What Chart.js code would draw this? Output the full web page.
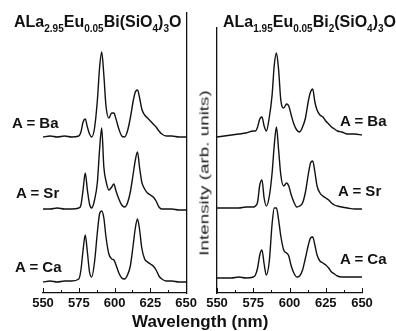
<!DOCTYPE html>
<html><head><meta charset="utf-8">
<script src="https://cdn.jsdelivr.net/npm/chart.js@4.4.0/dist/chart.umd.min.js"></script>
<style>
html,body{margin:0;padding:0;background:#fff;}
#wrap{position:relative;width:396px;height:331px;overflow:hidden;font-family:"Liberation Sans",Arial,sans-serif;color:#111;}
canvas{position:absolute;top:0;}
.t{position:absolute;white-space:nowrap;font-weight:bold;line-height:1;}
.ttl{font-size:16px;}
.ttl .s{font-size:10px;position:relative;top:5px;vertical-align:baseline;}
.lab{font-size:15px;}
.xl{font-size:17px;}
.yl{position:absolute;white-space:nowrap;font-size:13px;line-height:1;font-weight:normal;color:#1a1a1a;transform:translate(-50%,-50%) rotate(-90deg) scaleX(1.45);}
</style></head><body>
<div id="wrap">
<canvas id="c1" width="200" height="331" style="left:0"></canvas>
<canvas id="c2" width="196" height="331" style="left:200px"></canvas>
<div class="t ttl" style="left:14px;top:14px">ALa<span class="s">2.95</span>Eu<span class="s">0.05</span>Bi(SiO<span class="s">4</span>)<span class="s">3</span>O</div>
<div class="t ttl" style="left:223px;top:14px">ALa<span class="s">1.95</span>Eu<span class="s">0.05</span>Bi<span class="s">2</span>(SiO<span class="s">4</span>)<span class="s">3</span>O</div>
<div class="t lab" style="left:12px;top:115px">A = Ba</div>
<div class="t lab" style="left:16px;top:185px">A = Sr</div>
<div class="t lab" style="left:15px;top:259px">A = Ca</div>
<div class="t lab" style="left:340px;top:113px">A = Ba</div>
<div class="t lab" style="left:338px;top:183px">A = Sr</div>
<div class="t lab" style="left:340px;top:251px">A = Ca</div>
<div class="t xl" style="left:132px;top:313px">Wavelength (nm)</div>
<div class="yl" style="left:204px;top:173px">Intensity (arb. units)</div>
</div>
<script>
// Wavelength grid (nm)
const wavelengths = [550,555,560,565,570,575,576.5,578,579.5,581,582.5,584,586,588,589.5,591,592.5,594,596,598,599.5,601,603,605,607,609,611,613,614.5,616,617.5,619,621,623,625,627,629,631,633,636,640,645,650];
// Left panel: ALa2.95Eu0.05Bi(SiO4)3O (stacked intensities, arb. units)
const leftBa = [156,157,156,157,156,157,161,171,174,166,159,156,165,193,225,241,218,187,175,180,180,174,164,157,156,162,175,192,201,203,195,184,178,175,172,169,166,162,159,157,157,156,156];
const leftSr = [84,84,85,84,84,85,88,103,120,103,89,85,93,111,143,165,126,112,103,106,109,102,94,88,86,90,101,119,133,141,125,111,104,100,98,96,92,86,84,84,84,83,83];
const leftCa = [11,12,11,12,12,14,23,43,58,41,21,16,31,61,79,82,75,56,39,34,33,28,20,15,14,18,27,48,65,74,63,45,34,31,29,27,23,17,14,12,12,11,11];
// Right panel: ALa1.95Eu0.05Bi2(SiO4)3O
const rightBa = [156,157,158,159,160,162,162,166,174,176,167,162,175,198,228,240,223,193,185,189,187,179,169,163,161,166,175,192,201,204,191,183,178,176,172,169,166,164,162,161,159,159,158];
const rightSr = [85,85,85,85,86,86,87,91,108,113,95,87,96,120,148,166,143,118,107,110,107,99,91,86,87,90,101,119,130,132,121,107,100,97,95,93,90,88,87,86,85,84,84];
const rightCa = [15,15,15,16,15,16,18,25,38,43,29,18,31,69,85,85,73,57,43,40,37,28,20,16,17,23,35,48,55,56,48,38,32,30,28,25,21,19,17,16,16,16,16];
// Axis ticks
const xTicks = [550,575,600,625,650];
const xMinorTicks = [562.5,587.5,612.5,637.5];
const xMin = 550, xMax = 650;
const leftYMax = 280, rightYMax = 265;

const FONT = '"Liberation Sans", Arial, sans-serif';
const INK = '#111';

const innerTicks = {
  id: 'innerTicks',
  afterDraw(chart) {
    const ctx = chart.ctx, xs = chart.scales.x, b = chart.chartArea.bottom;
    ctx.save();
    ctx.strokeStyle = INK; ctx.lineWidth = 1;
    const draw = (v, len) => {
      const p = Math.round(xs.getPixelForValue(v)) + 0.5;
      ctx.beginPath(); ctx.moveTo(p, b); ctx.lineTo(p, b - len); ctx.stroke();
    };
    xTicks.forEach(v => draw(v, 5));
    xMinorTicks.forEach(v => draw(v, 3));
    ctx.restore();
  }
};

function makeChart(id, series, yMax, yPos, padding) {
  return new Chart(document.getElementById(id), {
    type: 'line',
    data: {
      datasets: series.map(s => ({
        data: wavelengths.map((w, i) => ({x: w, y: s[i]})),
        borderColor: INK, borderWidth: 1.4, pointRadius: 0,
        cubicInterpolationMode: 'monotone', fill: false
      }))
    },
    options: {
      responsive: false, animation: false, devicePixelRatio: 1,
      layout: {padding},
      plugins: {legend: {display: false}, tooltip: {enabled: false}, title: {display: false}},
      scales: {
        x: {
          type: 'linear', min: xMin, max: xMax,
          afterBuildTicks: s => { s.ticks = xTicks.map(v => ({value: v})); },
          afterFit: s => { s.height = 38; },
          grid: {display: true, drawOnChartArea: false, drawTicks: false},
          border: {display: true, color: INK, width: 1.3},
          ticks: {padding: 3, color: INK, maxRotation: 0, autoSkip: false,
                  font: {family: FONT, size: 13, weight: 'bold'}}
        },
        y: {
          position: yPos, min: 0, max: yMax,
          afterFit: s => { s.width = 0; },
          grid: {display: true, drawOnChartArea: false, drawTicks: false},
          border: {display: true, color: INK, width: 1.3},
          ticks: {display: false}
        }
      }
    },
    plugins: [innerTicks]
  });
}

makeChart('c1', [leftBa, leftSr, leftCa], leftYMax, 'right', {left: 43, right: 13, top: 13, bottom: 0});
makeChart('c2', [rightBa, rightSr, rightCa], rightYMax, 'left', {left: 17, right: 34, top: 28, bottom: 0});
</script>
</body></html>
